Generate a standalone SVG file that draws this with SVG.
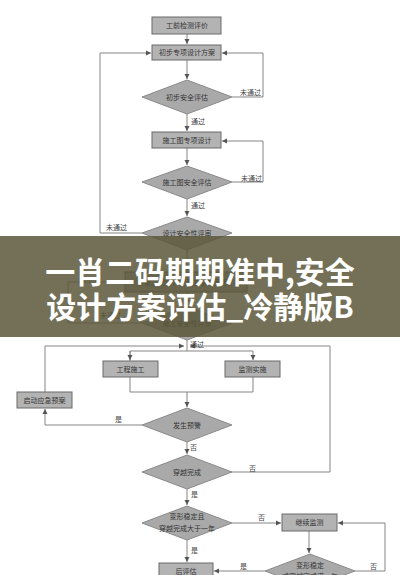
<svg xmlns="http://www.w3.org/2000/svg" width="400" height="575" viewBox="0 0 400 575">
<style>
.box{fill:#b3b3b3;stroke:#6a6a6a;stroke-width:1}
.dia{fill:#a9a9a9;stroke:#8a8a8a;stroke-width:1}
.t{font-family:"Noto Sans CJK SC","Noto Sans",sans-serif;font-size:7px;fill:#333;text-anchor:middle}
.l{font-family:"Noto Sans CJK SC","Noto Sans",sans-serif;font-size:7px;fill:#444}
.c{fill:none;stroke:#858585;stroke-width:1}
.ban{font-family:"Noto Sans CJK SC",sans-serif;font-size:30px;font-weight:bold;fill:#fff;text-anchor:middle}
</style>
<defs>
<marker id="a" markerWidth="6" markerHeight="6" refX="5" refY="3" orient="auto" markerUnits="userSpaceOnUse">
<path d="M0,0.5 L5,3 L0,5.5 Z" fill="#555"/>
</marker>
</defs>
<rect width="400" height="575" fill="#fff"/>
<g id="connectors">
<path class="c" d="M187,34 V44" marker-end="url(#a)"/>
<path class="c" d="M187,60 V79" marker-end="url(#a)"/>
<path class="c" d="M232,97 H263 V53 H222" marker-end="url(#a)"/>
<path class="c" d="M187,114 V131" marker-end="url(#a)"/>
<path class="c" d="M187,148 V165" marker-end="url(#a)"/>
<path class="c" d="M232,182 H263 V141 H222" marker-end="url(#a)"/>
<path class="c" d="M187,199 V216" marker-end="url(#a)"/>
<path class="c" d="M142,233 H100 V53 H151" marker-end="url(#a)"/>
<path class="c" d="M187,250 V271" marker-end="url(#a)"/>
<path class="c" d="M187,292 V305" marker-end="url(#a)"/>
<path class="c" d="M142,323 H68 V282 H124" marker-end="url(#a)"/>
<path class="c" d="M187,340 V351"/>
<path class="c" d="M45,392 V346 H184" marker-end="url(#a)"/>
<path class="c" d="M231,472 H330 V346 H190" marker-end="url(#a)"/>
<path class="c" d="M130,361 V351 H253 V360" marker-end="url(#a)"/>
<path class="c" d="M130,351 V360" marker-end="url(#a)"/>
<path class="c" d="M130,377 V392 H253 V377"/>
<path class="c" d="M187,392 V407" marker-end="url(#a)"/>
<path class="c" d="M142,425 H45 V409" marker-end="url(#a)"/>
<path class="c" d="M187,442 V454" marker-end="url(#a)"/>
<path class="c" d="M187,489 V505" marker-end="url(#a)"/>
<path class="c" d="M232,523 H281" marker-end="url(#a)"/>
<path class="c" d="M309,531 V553" marker-end="url(#a)"/>
<path class="c" d="M355,571 H385 V523 H338" marker-end="url(#a)"/>
<path class="c" d="M265,571 H214" marker-end="url(#a)"/>
<path class="c" d="M187,540 V562" marker-end="url(#a)"/>
<text class="l" x="191" y="124">通过</text>
<text class="l" x="191" y="208">通过</text>
<text class="l" x="240" y="95">未通过</text>
<text class="l" x="241" y="181">未通过</text>
<text class="l" x="106" y="230">未通过</text>
<text class="l" x="100" y="318">未通过</text>
<text class="l" x="190" y="347">通过</text>
<text class="l" x="115" y="422">是</text>
<text class="l" x="190" y="450">否</text>
<text class="l" x="249" y="471">否</text>
<text class="l" x="191" y="497">是</text>
<text class="l" x="258" y="520">否</text>
<text class="l" x="191" y="553">是</text>
<text class="l" x="240" y="569">是</text>
<text class="l" x="370" y="569">否</text>
</g>
<g id="n1"><rect class="box" x="152" y="17" width="69" height="17"/><text class="t" x="187" y="28">工前检测评价</text></g>
<g id="n2"><rect class="box" x="152" y="45" width="69" height="15"/><text class="t" x="187" y="55">初步专项设计方案</text></g>
<g id="d1"><polygon class="dia" points="187,80 232,97 187,114 142,97"/><text class="t" x="187" y="100">初步安全评估</text></g>
<g id="n3"><rect class="box" x="152" y="132" width="69" height="16"/><text class="t" x="187" y="143">施工图专项设计</text></g>
<g id="d2"><polygon class="dia" points="187,166 232,182 187,199 142,182"/><text class="t" x="187" y="185">施工图安全评估</text></g>
<g id="d3"><polygon class="dia" points="187,217 232,233 187,250 142,233"/><text class="t" x="187" y="236">设计安全性评审</text></g>
<g id="n4"><rect class="box" x="125" y="272" width="122" height="20"/><text class="t" x="186" y="285">方案、初步方案及应急方案等）</text></g>
<g id="d4"><polygon class="dia" points="187,306 232,323 187,340 142,323"/><text class="t" x="187" y="326">施工安全性评审</text></g>
<g id="n5"><rect class="box" x="103" y="361" width="55" height="16"/><text class="t" x="130.5" y="372">工程施工</text></g>
<g id="n6"><rect class="box" x="225" y="361" width="55" height="16"/><text class="t" x="252.5" y="372">监测实施</text></g>
<g id="n7"><rect class="box" x="17" y="392" width="55" height="16"/><text class="t" x="44.5" y="403">启动应急预案</text></g>
<g id="d5"><polygon class="dia" points="187,408 232,425 187,442 142,425"/><text class="t" x="187" y="428">发生预警</text></g>
<g id="d6"><polygon class="dia" points="187,455 232,472 187,489 142,472"/><text class="t" x="187" y="475">穿越完成</text></g>
<g id="d7"><polygon class="dia" points="187,506 232,523 187,540 142,523"/><text class="t" x="187" y="519">变形稳定且</text><text class="t" x="187" y="531">穿越完成大于一年</text></g>
<g id="n8"><rect class="box" x="282" y="514" width="55" height="17"/><text class="t" x="309.5" y="525">继续监测</text></g>
<g id="d8"><polygon class="dia" points="310,554 355,571 310,588 265,571"/><text class="t" x="310" y="568">变形稳定</text><text class="t" x="310" y="579">或穿越完成满一年</text></g>
<g id="n9"><rect class="box" x="159" y="563" width="54" height="17"/><text class="t" x="186" y="574">后评估</text></g>
<g id="banner">
<rect x="0" y="236" width="400" height="101" fill="#5a573a" opacity="0.85"/>
<text class="ban" x="200" y="283">一肖二码期期准中,安全</text>
<text class="ban" x="200" y="318">设计方案评估_冷静版B</text>
</g>
</svg>
